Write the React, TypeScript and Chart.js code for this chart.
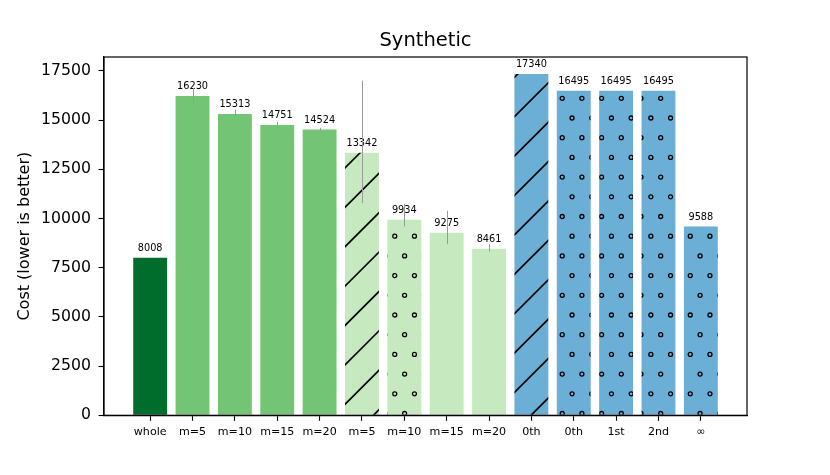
import { useEffect, useRef } from "react";
import { Chart, registerables } from "chart.js";

Chart.register(...registerables);

const title = "Synthetic";
const labels = ["whole", "m=5", "m=10", "m=15", "m=20", "m=5", "m=10", "m=15", "m=20", "0th", "0th", "1st", "2nd", "∞"];
const costs = [8008, 16230, 15313, 14751, 14524, 13342, 9934, 9275, 8461, 17340, 16495, 16495, 16495, 9588];
// error bar ends (null = no visible bar)
const errLow = [null, 15746, 15187, 14648, 14459, 10782, 9592, 8697, 8321, null, null, null, null, null];
const errHigh = [null, 16630, 15528, 14902, 14612, 17002, 10747, 10390, 8697, null, null, null, null, null];
const groups = ["dark", "mid", "mid", "mid", "mid", "light", "light", "light", "light", "blue", "blue", "blue", "blue", "blue"];
const hatches = ["", "", "", "", "", "/", "o", "", "", "/", "o", "o", "o", "o"];
const yTicks = [0, 2500, 5000, 7500, 10000, 12500, 15000, 17500];

const colors: Record<string, string> = {
  dark: "#006d2c",
  mid: "#74c476",
  light: "#c7e9c0",
  blue: "#6baed6",
};

const FONT = "'DejaVu Sans', sans-serif";
const TILE = 197; // 10 hatch periods of 19.7px

function makeHatch(bg: string, kind: string): CanvasPattern | string {
  if (!kind) return bg;
  const c = document.createElement("canvas");
  c.width = TILE;
  c.height = TILE;
  const g = c.getContext("2d")!;
  g.fillStyle = bg;
  g.fillRect(0, 0, TILE, TILE);
  g.strokeStyle = "#000";
  if (kind === "/") {
    g.lineWidth = 1.7;
    for (let k = -6; k <= 11; k++) {
      const s = 0.7 + k * 39.4;
      g.beginPath();
      g.moveTo(s + 20, -20);
      g.lineTo(-20, s + 20);
      g.stroke();
    }
  } else {
    g.lineWidth = 1.3;
    for (let r = -1; r <= 11; r++) {
      const y = 19.5 + r * 19.7;
      const off = Math.abs(r) % 2 === 1 ? 9.85 : 0;
      for (let i = -1; i <= 11; i++) {
        const x = 10.6 + off + i * 19.7;
        g.beginPath();
        g.arc(x, y, 2, 0, Math.PI * 2);
        g.stroke();
      }
    }
  }
  return g.createPattern(c, "repeat")!;
}

export default function App() {
  const chartRef = useRef<HTMLCanvasElement>(null);
  const chartInstance = useRef<Chart | null>(null);

  useEffect(() => {
    if (!chartRef.current) return;
    if (chartInstance.current) chartInstance.current.destroy();
    const ctx = chartRef.current.getContext("2d");
    if (!ctx) return;

    const fills = costs.map((_, i) => makeHatch(colors[groups[i]], hatches[i]));

    const overlay = {
      id: "overlay",
      afterDatasetsDraw(chart: any) {
        const c = chart.ctx;
        const meta = chart.getDatasetMeta(0);
        const ys = chart.scales.y;
        c.save();
        c.font = `9.75px ${FONT}`;
        c.fillStyle = "#000";
        c.textAlign = "center";
        c.textBaseline = "alphabetic";
        meta.data.forEach((bar: any, i: number) => {
          c.fillText(String(costs[i]), bar.x, bar.y - 6.8);
        });
        c.strokeStyle = "#9a9a9a";
        c.lineWidth = 1;
        meta.data.forEach((bar: any, i: number) => {
          if (errLow[i] == null || errHigh[i] == null) return;
          const x = Math.round(bar.x) + 0.5;
          c.beginPath();
          c.moveTo(x, ys.getPixelForValue(errLow[i]));
          c.lineTo(x, ys.getPixelForValue(errHigh[i]));
          c.stroke();
        });
        c.restore();
      },
      afterDraw(chart: any) {
        const { left, right, top, bottom } = chart.chartArea;
        const c = chart.ctx;
        c.save();
        c.strokeStyle = "#000";
        c.lineWidth = 1.2;
        c.strokeRect(left, top, right - left, bottom - top);
        c.font = `19.5px ${FONT}`;
        c.fillStyle = "#000";
        c.textAlign = "center";
        c.textBaseline = "middle";
        c.fillText(title, (left + right) / 2, 41);
        c.restore();
      },
    };

    chartInstance.current = new Chart(ctx, {
      type: "bar",
      data: {
        datasets: [
          {
            data: costs.map((v, i) => ({ x: i, y: v })),
            backgroundColor: fills as any,
            borderWidth: 0,
            categoryPercentage: 1,
            barPercentage: 0.8,
          },
        ],
      },
      options: {
        animation: false,
        responsive: true,
        maintainAspectRatio: false,
        layout: { padding: { left: 0, right: 83, top: 57, bottom: 0 } },
        plugins: {
          legend: { display: false },
          tooltip: { enabled: false },
          title: { display: false },
        },
        scales: {
          x: {
            type: "linear",
            offset: false,
            min: -1.09,
            max: 14.09,
            afterBuildTicks: (scale: any) => {
              scale.ticks = labels.map((_, i) => ({ value: i }));
            },
            afterFit: (scale: any) => {
              scale.height = 59.7;
            },
            ticks: {
              autoSkip: false,
              maxRotation: 0,
              padding: 4.5,
              color: "#000",
              font: { family: FONT, size: 11.1 },
              callback: (v: any) => labels[v] ?? "",
            },
            grid: { offset: false, drawOnChartArea: false, drawTicks: true, tickLength: 5.5, color: "#000", tickWidth: 1.1 },
            border: { display: true, color: "#000", width: 1.2 },
          },
          y: {
            type: "linear",
            min: 0,
            max: 18207,
            afterBuildTicks: (scale: any) => {
              scale.ticks = yTicks.map((v) => ({ value: v }));
            },
            afterFit: (scale: any) => {
              scale.width = 104;
            },
            title: {
              display: true,
              text: "Cost (lower is better)",
              color: "#000",
              font: { family: FONT, size: 16 },
              padding: { top: 15.4, bottom: 0 },
            },
            ticks: {
              padding: 7.5,
              color: "#000",
              font: { family: FONT, size: 15.7 },
              callback: (v: any) => String(v),
            },
            grid: { drawOnChartArea: false, drawTicks: true, tickLength: 5.5, color: "#000", tickWidth: 1.1 },
            border: { display: true, color: "#000", width: 1.2 },
          },
        },
      },
      plugins: [overlay],
    });

    return () => {
      if (chartInstance.current) {
        chartInstance.current.destroy();
        chartInstance.current = null;
      }
    };
  }, []);

  return (
    <div style={{ position: "absolute", left: 0, top: 0, width: 830, height: 475, background: "#fff" }}>
      <canvas ref={chartRef} />
    </div>
  );
}
